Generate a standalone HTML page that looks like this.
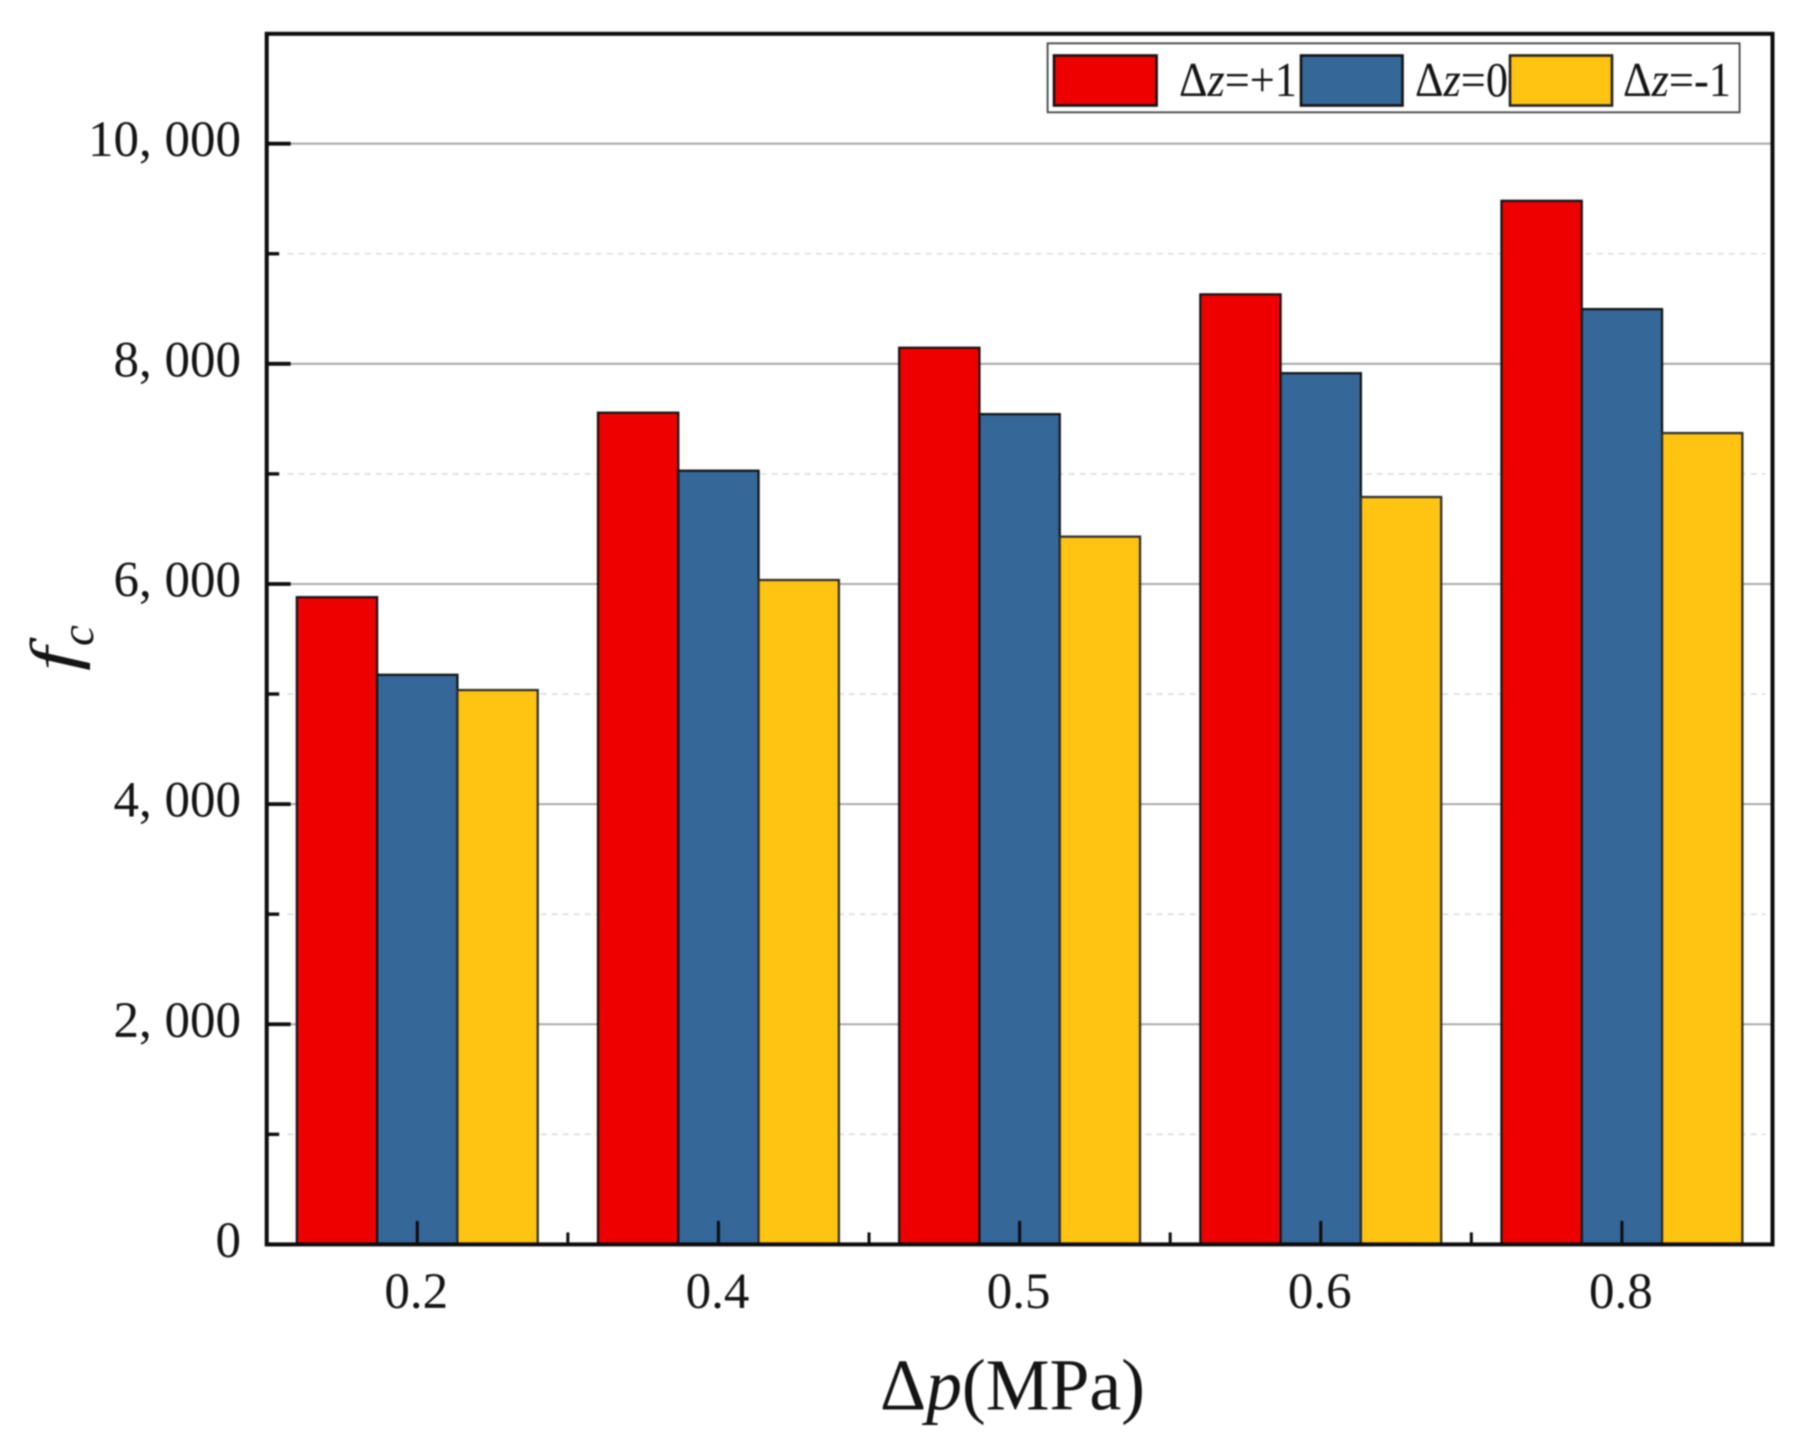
<!DOCTYPE html>
<html lang="en">
<head>
<meta charset="utf-8">
<title>fc versus pressure difference</title>
<style>
  html, body { margin: 0; padding: 0; background: #fff; }
  body { width: 1810px; height: 1443px; overflow: hidden; }
  svg { display: block; filter: blur(0.7px); }
  text { font-family: "Liberation Serif", "DejaVu Serif", serif; fill: #141414; }
</style>
</head>
<body>
<svg id="chart" xmlns="http://www.w3.org/2000/svg" width="1810" height="1443" viewBox="0 0 1810 1443">
  <rect x="0" y="0" width="1810" height="1443" fill="#ffffff"/>
  <g id="grid"></g>
  <g id="bars"></g>
  <g id="ticks"></g>
  <g id="labels"></g>
  <rect x="266.7" y="33.8" width="1505.8" height="1210.6" fill="none" stroke="#0c0c0c" stroke-width="4"/>

  <g>
    <rect x="1047.6" y="43.3" width="692" height="69" fill="#fff" stroke="#444" stroke-width="1.8"/>
    <rect x="1054" y="55.5" width="102.6" height="50" fill="#ee0000" stroke="#111" stroke-width="2.6"/>
    <text x="1179" y="96" font-size="49" textLength="118" lengthAdjust="spacingAndGlyphs">Δ<tspan font-style="italic">z</tspan>=+1</text>
    <rect x="1301" y="55.5" width="101.5" height="50" fill="#356799" stroke="#111" stroke-width="2.6"/>
    <text x="1415" y="96" font-size="49" textLength="93" lengthAdjust="spacingAndGlyphs">Δ<tspan font-style="italic">z</tspan>=0</text>
    <rect x="1510" y="55.5" width="102" height="50" fill="#ffc412" stroke="#222" stroke-width="2.6"/>
    <text x="1623" y="96" font-size="49" textLength="108" lengthAdjust="spacingAndGlyphs">Δ<tspan font-style="italic">z</tspan>=-1</text>
  </g>

  <text x="880" y="1409.5" font-size="73" textLength="265" lengthAdjust="spacingAndGlyphs">Δ<tspan font-style="italic">p</tspan>(MPa)</text>
  <g>
    <text transform="translate(76,671) rotate(-90) scale(1.3,1)" font-size="66" font-style="italic">f</text>
    <text transform="translate(93,646) rotate(-90)" font-size="47" font-style="italic">c</text>
  </g>
</svg>
<script>
const categories = ['0.2', '0.4', '0.5', '0.6', '0.8'];
const seriesPlus1 = [5880, 7556, 8146, 8631, 9481];
const seriesZero = [5175, 7029, 7543, 7915, 8497];
const seriesMinus1 = [5036, 6036, 6430, 6790, 7371];
const majorYTicks = [0, 2000, 4000, 6000, 8000, 10000];
const majorYLabels = ['0', '2, 000', '4, 000', '6, 000', '8, 000', '10, 000'];
const minorYTicks = [1000, 3000, 5000, 7000, 9000];
const yDomain = [0, 11000];

const SVG_NS = 'http://www.w3.org/2000/svg';
const plot = { left: 266.7, right: 1772.5, top: 33.6, bottom: 1244.4 };
const seriesList = [seriesPlus1, seriesZero, seriesMinus1];
const seriesKeys = ['plus-1', 'zero', 'minus-1'];
const seriesColors = ['#ee0000', '#356799', '#ffc412'];
const seriesStrokes = ['#111111', '#111111', '#2a2a2a'];

function yScale(v) {
  return plot.bottom - (v - yDomain[0]) / (yDomain[1] - yDomain[0]) * (plot.bottom - plot.top);
}
function bandWidth() {
  return (plot.right - plot.left) / categories.length;
}
function xCenter(i) {
  return plot.left + (i + 0.5) * bandWidth();
}
function xEdge(i) {
  return plot.left + i * bandWidth();
}
function make(tag, attrs) {
  const node = document.createElementNS(SVG_NS, tag);
  for (const k in attrs) node.setAttribute(k, attrs[k]);
  return node;
}

const gridG = document.getElementById('grid');
const barsG = document.getElementById('bars');
const ticksG = document.getElementById('ticks');
const labelsG = document.getElementById('labels');

majorYTicks.forEach(function (v, i) {
  const y = yScale(v);
  if (v > 0) {
    const el = make('line', { x1: plot.left + 23, x2: plot.right, y1: y, y2: y, stroke: '#a0a0a0', 'stroke-width': 1.8 });
    
    
    gridG.appendChild(el);
  }
  const tick = make('line', { x1: plot.left, x2: plot.left + 24, y1: y, y2: y, stroke: '#0c0c0c', 'stroke-width': 3.8 });
  
  
  ticksG.appendChild(tick);
  const label = make('text', { x: 241, y: y + 12.5, 'text-anchor': 'end', 'font-size': 51 });
  label.textContent = majorYLabels[i];
  
  
  labelsG.appendChild(label);
});

minorYTicks.forEach(function (v) {
  const y = yScale(v);
  const el = make('line', { x1: plot.left + 21, x2: plot.right - 7, y1: y, y2: y, stroke: '#dcdcdc', 'stroke-width': 1.6, 'stroke-dasharray': '6 5' });
  
  
  gridG.appendChild(el);
  const tick = make('line', { x1: plot.left, x2: plot.left + 12.5, y1: y, y2: y, stroke: '#0c0c0c', 'stroke-width': 3.4 });
  
  
  ticksG.appendChild(tick);
});

const barW = bandWidth() * 0.8 / seriesList.length;
categories.forEach(function (cat, c) {
  seriesList.forEach(function (values, s) {
    const y = yScale(values[c]);
    const x = xCenter(c) - barW * seriesList.length / 2 + s * barW;
    const bar = make('rect', { x: x, y: y, width: barW, height: yScale(0) - y, fill: seriesColors[s], stroke: seriesStrokes[s], 'stroke-width': 2.2 });
    
    
    barsG.appendChild(bar);
  });
  const tick = make('line', { x1: xCenter(c), x2: xCenter(c), y1: plot.bottom, y2: plot.bottom - 23.5, stroke: '#0c0c0c', 'stroke-width': 3 });
  
  
  ticksG.appendChild(tick);
  if (c > 0) {
    const minor = make('line', { x1: xEdge(c), x2: xEdge(c), y1: plot.bottom, y2: plot.bottom - 12, stroke: '#0c0c0c', 'stroke-width': 3 });
    
    
    ticksG.appendChild(minor);
  }
  const label = make('text', { x: xCenter(c) - 1, y: 1308, 'text-anchor': 'middle', 'font-size': 51 });
  label.textContent = cat;
  
  
  labelsG.appendChild(label);
});
</script>
</body>
</html>
